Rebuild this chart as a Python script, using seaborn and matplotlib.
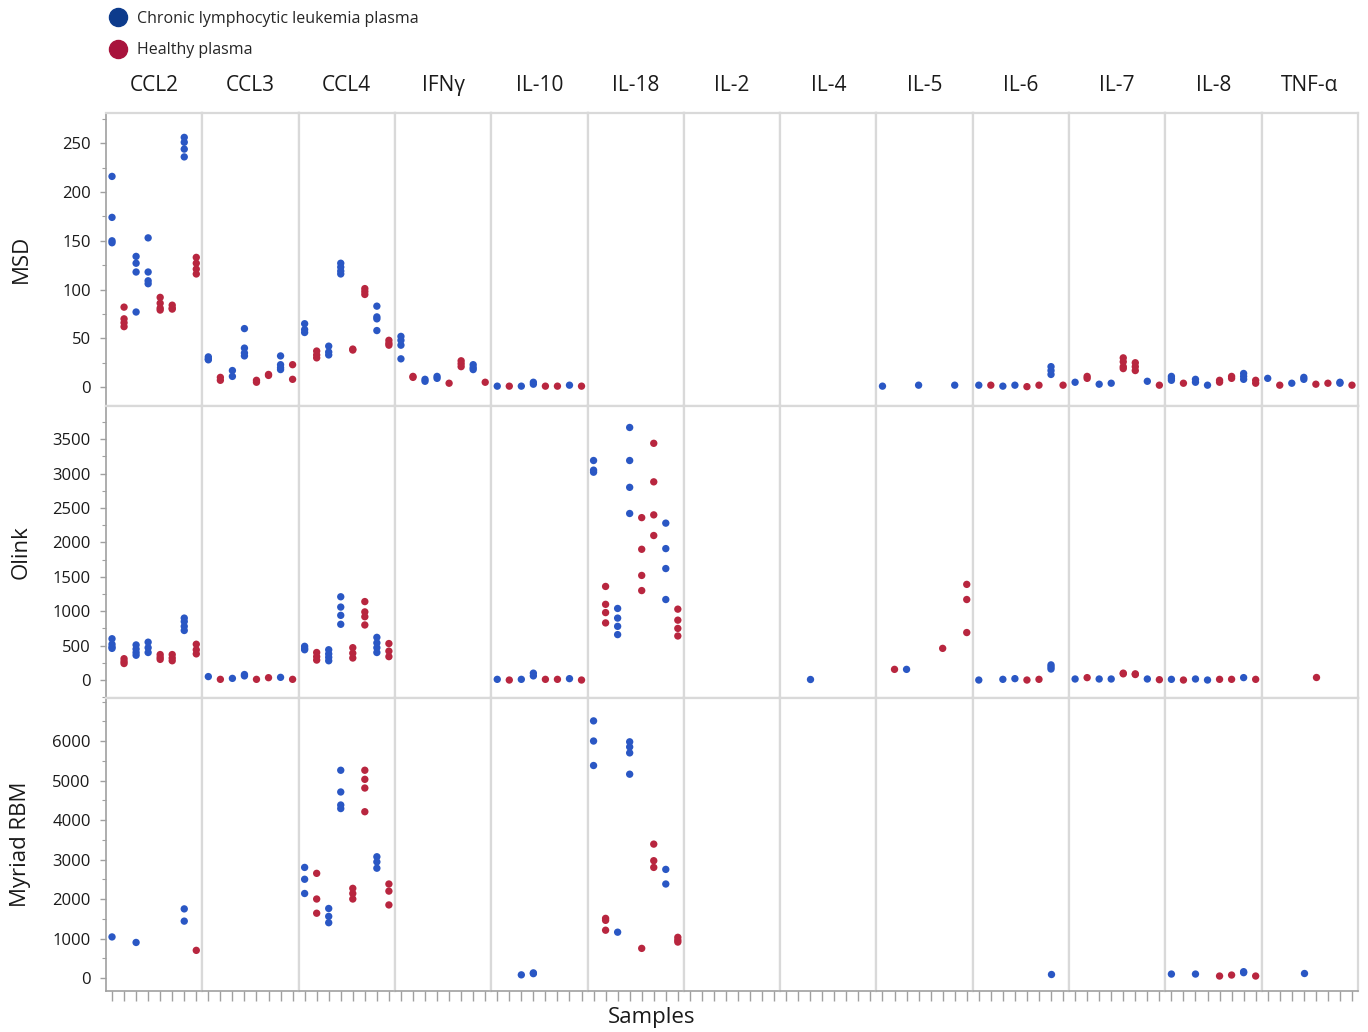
import pandas as pd
import matplotlib
matplotlib.use('Agg')
import matplotlib.pyplot as plt
import seaborn as sns
from matplotlib.lines import Line2D
from matplotlib.ticker import MultipleLocator

CYTOKINES = ['CCL2', 'CCL3', 'CCL4', 'IFNγ', 'IL-10', 'IL-18', 'IL-2', 'IL-4',
             'IL-5', 'IL-6', 'IL-7', 'IL-8', 'TNF-α']
PLATFORMS = ['MSD', 'Olink', 'Myriad RBM']
# the same 8 plasma samples are plotted in every panel, in this order
SAMPLE_GROUP = ['CLL', 'Healthy', 'CLL', 'CLL', 'Healthy', 'Healthy', 'CLL', 'Healthy']
GROUP_LABELS = ['Chronic lymphocytic leukemia plasma', 'Healthy plasma']

# replicate measurements per sample (empty list = not measured / below detection)
MSD_CCL2 = [[216, 174, 150, 148], [82, 70, 66, 62], [134, 127, 118, 77], [153, 118, 109, 106],
            [92, 86, 81, 79], [84, 81, 80], [256, 251, 244, 236], [133, 127, 121, 116]]
MSD_CCL3 = [[31, 29, 28], [10, 7], [17, 11], [60, 40, 35, 32], [7, 5], [12, 13],
            [32, 23, 20, 18], [23, 8]]
MSD_CCL4 = [[65, 59, 56], [37, 33, 30], [42, 36, 33], [127, 123, 119, 116], [39, 38],
            [101, 98, 95], [83, 72, 70, 58], [48, 45, 43]]
MSD_IFNG = [[52, 48, 43, 29], [11, 10], [8, 6], [11, 9], [4], [27, 24, 21], [23, 20, 18], [5]]
MSD_IL10 = [[1], [1], [1], [5, 3], [1], [1], [2], [1]]
MSD_IL5 = [[1], [], [], [2], [], [], [2], []]
MSD_IL6 = [[2], [2], [1], [2], [0.5], [2], [21, 17, 13], [2]]
MSD_IL7 = [[5], [11, 9], [3], [4], [30, 26, 21, 19], [25, 21, 17], [6], [2]]
MSD_IL8 = [[11, 9, 7], [4], [8, 5], [2], [7, 5], [11, 9], [14, 11, 8], [7, 4]]
MSD_TNFA = [[9], [2], [4], [10, 8], [3], [4], [5, 4], [2]]

OLINK_CCL2 = [[600, 520, 480, 460], [310, 270, 240], [510, 450, 400, 360], [550, 470, 400],
              [370, 330, 300], [370, 320, 280], [900, 850, 780, 720], [520, 440, 380]]
OLINK_CCL3 = [[50], [10], [24], [80, 60], [10], [34], [39], [10]]
OLINK_CCL4 = [[490, 460, 440], [400, 340, 290], [440, 380, 330, 280], [1210, 1060, 940, 810],
              [470, 390, 320], [1140, 990, 920, 800], [620, 540, 470, 400], [530, 420, 340]]
OLINK_IL10 = [[10], [0], [10], [100, 60], [10], [10], [20], [0]]
OLINK_IL18 = [[3190, 3050, 3020], [1360, 1100, 980, 830], [1040, 900, 780, 660],
              [3670, 3190, 2800, 2420], [2360, 1900, 1520, 1300], [3440, 2880, 2400, 2100],
              [2280, 1910, 1620, 1170], [1030, 870, 750, 640]]
OLINK_IL4 = [[], [], [15], [], [], [], [], []]
OLINK_IL5 = [[], [155], [155], [], [], [460], [], [1390, 1170, 690]]
OLINK_IL6 = [[0], [], [10], [20], [0], [10], [220, 190, 160], []]
OLINK_IL7 = [[15], [35], [15], [15], [100, 90], [90, 80], [15], [5]]
OLINK_IL8 = [[10], [0], [15], [0], [10], [10], [35], [10]]
OLINK_TNFA = [[], [], [], [], [50], [], [], []]

RBM_CCL2 = [[1040], [], [900], [], [], [], [1750, 1440], [700]]
RBM_CCL4 = [[2800, 2500, 2140], [2650, 2000, 1640], [1760, 1560, 1400], [5260, 4710, 4380, 4290],
            [2270, 2140, 2000], [5260, 5030, 4810, 4210], [3070, 2940, 2780], [2380, 2200, 1850]]
RBM_IL10 = [[], [], [80], [130, 110], [], [], [], []]
RBM_IL18 = [[6510, 6000, 5380], [1510, 1460, 1210], [1160], [5980, 5850, 5700, 5160], [750],
            [3390, 2970, 2800], [2750, 2380], [1030, 960, 910]]
RBM_IL6 = [[], [], [], [], [], [], [100], []]
RBM_IL8 = [[100], [], [100], [], [50], [75], [160, 135], [50]]
RBM_TNFA = [[], [], [], [130], [], [], [], []]

DATA = {
    'MSD': {'CCL2': MSD_CCL2, 'CCL3': MSD_CCL3, 'CCL4': MSD_CCL4, 'IFNγ': MSD_IFNG,
            'IL-10': MSD_IL10, 'IL-5': MSD_IL5, 'IL-6': MSD_IL6, 'IL-7': MSD_IL7,
            'IL-8': MSD_IL8, 'TNF-α': MSD_TNFA},
    'Olink': {'CCL2': OLINK_CCL2, 'CCL3': OLINK_CCL3, 'CCL4': OLINK_CCL4, 'IL-10': OLINK_IL10,
              'IL-18': OLINK_IL18, 'IL-4': OLINK_IL4, 'IL-5': OLINK_IL5, 'IL-6': OLINK_IL6,
              'IL-7': OLINK_IL7, 'IL-8': OLINK_IL8, 'TNF-α': OLINK_TNFA},
    'Myriad RBM': {'CCL2': RBM_CCL2, 'CCL4': RBM_CCL4, 'IL-10': RBM_IL10, 'IL-18': RBM_IL18,
                   'IL-6': RBM_IL6, 'IL-8': RBM_IL8, 'TNF-α': RBM_TNFA},
}

YLIMS = {'MSD': (-19, 281), 'Olink': (-266, 3987), 'Myriad RBM': (-329, 7081)}
YTICKS = {'MSD': (250, 50, 25), 'Olink': (3500, 500, 250), 'Myriad RBM': (6000, 1000, 500)}

PALETTE = {'CLL': '#2a57c4', 'Healthy': '#b8263f'}
LEGEND_COLORS = ['#0d3b8c', '#a8133c']


def build_frame():
    rows = []
    for platform, table in DATA.items():
        for cyto, samples in table.items():
            for i, vals in enumerate(samples):
                for v in vals:
                    rows.append(dict(platform=platform, cytokine=cyto, sample=i,
                                     group=SAMPLE_GROUP[i], value=v))
    return pd.DataFrame(rows)


def generate_plot():
    df = build_frame()

    sns.set_style('white')
    plt.rcParams['font.family'] = ['Open Sans', 'DejaVu Sans']

    fig, axes = plt.subplots(3, 13, figsize=(13.68, 10.32), sharex=True, sharey='row',
                             gridspec_kw=dict(wspace=0, hspace=0))
    fig.subplots_adjust(left=106 / 1368, right=1358 / 1368, top=1 - 113 / 1032, bottom=1 - 991 / 1032)

    for r, platform in enumerate(PLATFORMS):
        for c, cyto in enumerate(CYTOKINES):
            ax = axes[r, c]
            sub = df[(df['platform'] == platform) & (df['cytokine'] == cyto)]
            if len(sub):
                sns.scatterplot(data=sub, x='sample', y='value', hue='group',
                                hue_order=['CLL', 'Healthy'], palette=PALETTE,
                                s=28, linewidth=0, legend=False, ax=ax)
            ax.set_xlabel('')
            ax.set_ylabel('')
            ax.set_xlim(-0.5, 7.5)
            ax.set_ylim(*YLIMS[platform])
            for sp in ax.spines.values():
                sp.set_color('#d9d9d9')
                sp.set_linewidth(1.6)
            ax.set_xticks(range(8))
            ax.tick_params(axis='x', which='both', bottom=False, labelbottom=False)
            ax.tick_params(axis='y', which='both', left=False, labelleft=False)
            if r == 0:
                ax.set_title(cyto, fontsize=15, pad=16, color='#1a1a1a')
            if r == 2:
                ax.spines['bottom'].set_color('#a0a0a0')
                ax.spines['bottom'].set_linewidth(1.2)
                ax.tick_params(axis='x', bottom=True, length=7, width=1, color='#a0a0a0',
                               direction='out')

        ax0 = axes[r, 0]
        top, major, minor = YTICKS[platform]
        ax0.set_yticks(range(0, top + 1, major))
        ax0.yaxis.set_minor_locator(MultipleLocator(minor))
        ax0.set_ylim(*YLIMS[platform])
        ax0.spines['left'].set_color('#a0a0a0')
        ax0.spines['left'].set_linewidth(1.2)
        ax0.tick_params(axis='y', which='major', left=True, labelleft=True, length=4,
                        width=1, color='#a0a0a0', labelsize=12, pad=7, labelcolor='#1a1a1a')
        ax0.tick_params(axis='y', which='minor', left=True, length=3, width=0.8, color='#a0a0a0')
        y_center = 1 - (113 + 292.7 * (r + 0.5)) / 1032
        fig.text(21 / 1368, y_center, platform, rotation=90, ha='center', va='center',
                 fontsize=16, color='#1a1a1a')

    fig.text(652 / 1368, 1 - 1018 / 1032, 'Samples', ha='center', va='center',
             fontsize=16, color='#1a1a1a')

    handles = [Line2D([0], [0], marker='o', ls='', markersize=13,
                      markerfacecolor=col, markeredgecolor=col) for col in LEGEND_COLORS]
    fig.legend(handles, GROUP_LABELS, loc='upper left', bbox_to_anchor=(108 / 1368, 1 - 11 / 1032),
               frameon=False, fontsize=11.5, handletextpad=0.6, handlelength=1.2,
               labelspacing=0.95, borderpad=0, borderaxespad=0)

    fig.savefig('out.png', dpi=100)
    plt.close(fig)


if __name__ == "__main__":
    generate_plot()
